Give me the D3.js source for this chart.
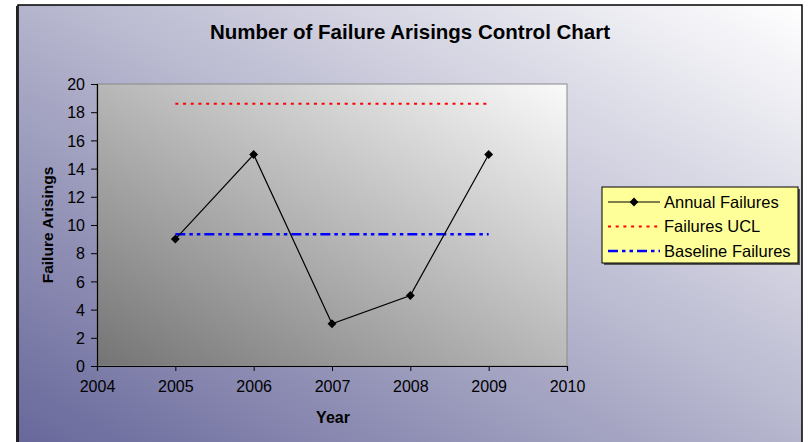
<!DOCTYPE html>
<html lang="en">
<head>
    <meta charset="UTF-8">
    <title>Number of Failure Arisings Control Chart</title>
    <style>
        body { margin: 0; background: #fff; }
        svg { display: block; font-family: "Liberation Sans", Arial, sans-serif; }
    </style>
</head>
<body>
    <div id="chart"></div>

    <script src="https://d3js.org/d3.v7.min.js"></script>
    <script>
        const years = [2005, 2006, 2007, 2008, 2009];
        const annualFailures = [9, 15, 3, 5, 15];
        const failuresUCL = [18.6, 18.6, 18.6, 18.6, 18.6];
        const baselineFailures = [9.35, 9.35, 9.35, 9.35, 9.35];
        const xTicks = [2004, 2005, 2006, 2007, 2008, 2009, 2010];
        const yTicks = [0, 2, 4, 6, 8, 10, 12, 14, 16, 18, 20];

        const width = 808;
        const height = 442;
        const plot = { left: 97, top: 84, right: 567, bottom: 366 };

        const svg = d3.select("#chart").append("svg")
            .attr("width", width)
            .attr("height", height);

        const defs = svg.append("defs");

        const bgGrad = defs.append("linearGradient")
            .attr("id", "bg-grad")
            .attr("x1", 0).attr("y1", 1).attr("x2", 1).attr("y2", 0);
        bgGrad.append("stop").attr("offset", "0%").attr("stop-color", "#66669a");
        bgGrad.append("stop").attr("offset", "55%").attr("stop-color", "#bcbcd2");
        bgGrad.append("stop").attr("offset", "100%").attr("stop-color", "#ffffff");

        const plotGrad = defs.append("linearGradient")
            .attr("id", "plot-grad")
            .attr("x1", 0).attr("y1", 1).attr("x2", 1).attr("y2", 0);
        plotGrad.append("stop").attr("offset", "0%").attr("stop-color", "#747474");
        plotGrad.append("stop").attr("offset", "100%").attr("stop-color", "#fafafa");

        // chart background + border
        svg.append("rect")
            .attr("x", 18).attr("y", 5)
            .attr("width", 784).attr("height", 445)
            .attr("fill", "url(#bg-grad)")
            .attr("stroke", "#000")
            .attr("stroke-width", 1.5);
        svg.append("line")
            .attr("x1", 17).attr("x2", 17).attr("y1", 6).attr("y2", height)
            .attr("stroke", "#222").attr("stroke-width", 2);

        const xScale = d3.scaleLinear()
            .domain([2004, 2010])
            .range([plot.left, plot.right]);

        const yScale = d3.scaleLinear()
            .domain([0, 20])
            .range([plot.bottom, plot.top]);

        // plot area
        svg.append("rect")
            .attr("x", plot.left).attr("y", plot.top)
            .attr("width", plot.right - plot.left)
            .attr("height", plot.bottom - plot.top)
            .attr("fill", "url(#plot-grad)")
            .attr("stroke", "#8a8a8a")
            .attr("stroke-width", 1);

        // axes
        const xAxis = svg.append("g")
            .attr("transform", `translate(0,${plot.bottom})`)
            .call(d3.axisBottom(xScale).tickValues(xTicks).tickFormat(d3.format("d"))
                .tickSize(5).tickPadding(6));
        const yAxis = svg.append("g")
            .attr("transform", `translate(${plot.left},0)`)
            .call(d3.axisLeft(yScale).tickValues(yTicks).tickSize(6).tickPadding(6));

        [xAxis, yAxis].forEach(a => {
            a.attr("font-size", 16).attr("font-family", "Liberation Sans, Arial, sans-serif");
            a.select(".domain").attr("stroke", "#000").attr("stroke-width", 1.2);
            a.selectAll(".tick line").attr("stroke", "#000");
            a.selectAll(".tick text").attr("fill", "#000");
        });
        xAxis.selectAll(".tick text").attr("dy", "0.95em");
        yAxis.selectAll(".tick text").attr("dy", "0.36em");

        const line = d3.line()
            .x((d, i) => xScale(years[i]))
            .y(d => yScale(d));

        // control limit lines
        svg.append("path")
            .datum(failuresUCL)
            .attr("d", line)
            .attr("fill", "none")
            .attr("stroke", "#ff0000")
            .attr("stroke-width", 2.2)
            .attr("stroke-dasharray", "3,4.7");

        svg.append("path")
            .datum(baselineFailures)
            .attr("d", line)
            .attr("fill", "none")
            .attr("stroke", "#0000ff")
            .attr("stroke-width", 2.5)
            .attr("stroke-dasharray", "10,4,3.5,4,3.5,4");

        // annual failures
        svg.append("path")
            .datum(annualFailures)
            .attr("d", line)
            .attr("fill", "none")
            .attr("stroke", "#000")
            .attr("stroke-width", 1.2);

        const diamond = d3.symbol().type(d3.symbolDiamond2).size(50);
        svg.selectAll(".marker")
            .data(annualFailures)
            .enter()
            .append("path")
            .attr("class", "marker")
            .attr("transform", (d, i) => `translate(${xScale(years[i])},${yScale(d)})`)
            .attr("d", diamond)
            .attr("fill", "#000");

        // titles
        svg.append("text")
            .attr("x", 410).attr("y", 39)
            .attr("text-anchor", "middle")
            .attr("font-size", 20.5)
            .attr("font-weight", "bold")
            .text("Number of Failure Arisings Control Chart");

        svg.append("text")
            .attr("x", 333).attr("y", 423)
            .attr("text-anchor", "middle")
            .attr("font-size", 16)
            .attr("font-weight", "bold")
            .text("Year");

        svg.append("text")
            .attr("transform", "translate(53,225) rotate(-90)")
            .attr("text-anchor", "middle")
            .attr("font-size", 15.5)
            .attr("font-weight", "bold")
            .text("Failure Arisings");

        // legend
        const legendItems = [
            { name: "Annual Failures", color: "#000", dash: null, width: 1.2, marker: true },
            { name: "Failures UCL", color: "#ff0000", dash: "3,4.7", width: 2.2, marker: false },
            { name: "Baseline Failures", color: "#0000ff", dash: "10,4,3.5,4,3.5,4", width: 2.5, marker: false }
        ];

        const legend = svg.append("g").attr("transform", "translate(602,187)");
        legend.append("rect")
            .attr("x", 2).attr("y", 2)
            .attr("width", 196).attr("height", 76)
            .attr("fill", "#555");
        legend.append("rect")
            .attr("width", 196).attr("height", 76)
            .attr("fill", "#ffff99")
            .attr("stroke", "#000")
            .attr("stroke-width", 1);

        const rows = legend.selectAll(".row")
            .data(legendItems)
            .enter()
            .append("g")
            .attr("transform", (d, i) => `translate(0,${15 + i * 24.5})`);

        rows.append("line")
            .attr("x1", 6).attr("x2", 58)
            .attr("stroke", d => d.color)
            .attr("stroke-width", d => d.width)
            .attr("stroke-dasharray", d => d.dash);

        rows.filter(d => d.marker)
            .append("path")
            .attr("transform", "translate(32,0)")
            .attr("d", diamond)
            .attr("fill", "#000");

        rows.append("text")
            .attr("x", 62)
            .attr("dy", "0.36em")
            .attr("font-size", 16.5)
            .text(d => d.name);
    </script>
</body>
</html>
